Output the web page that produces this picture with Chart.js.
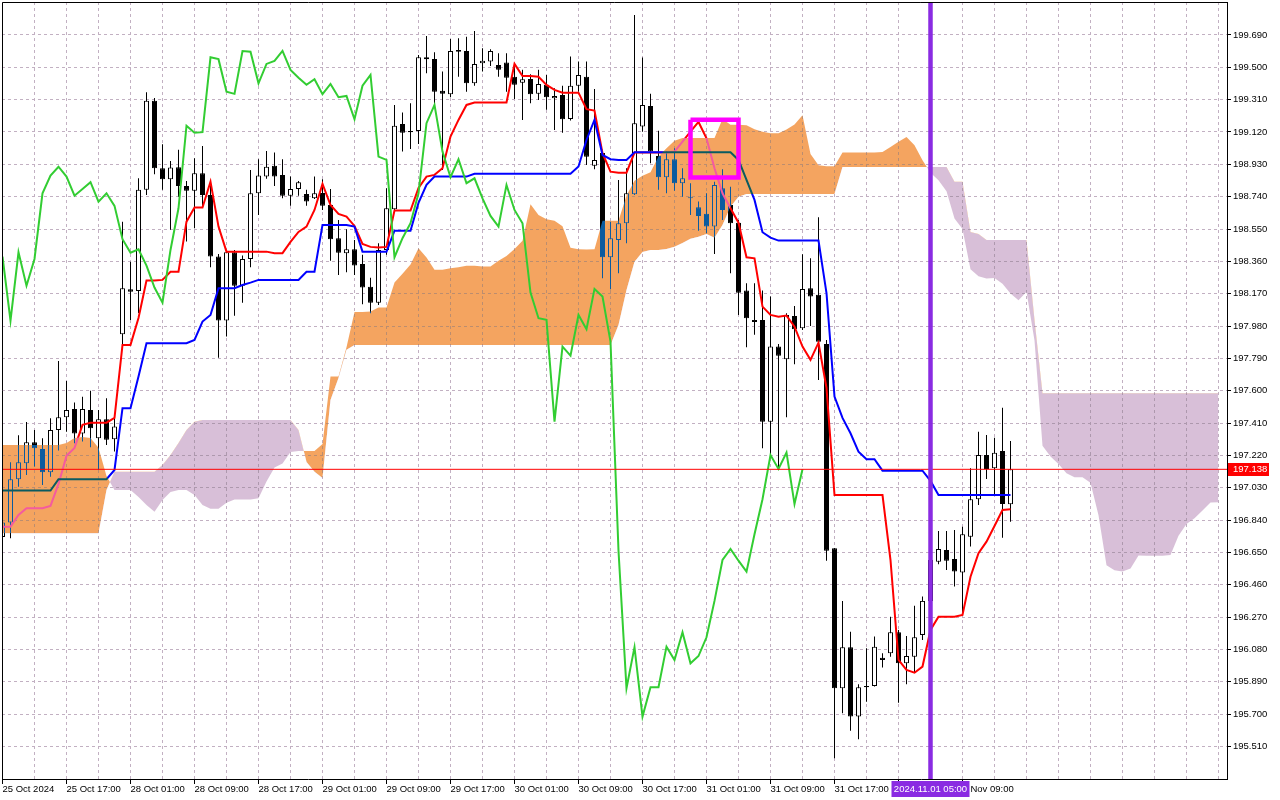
<!DOCTYPE html>
<html>
<head>
<meta charset="utf-8">
<script src="https://cdn.jsdelivr.net/npm/chart.js@4.4.1/dist/chart.umd.min.js"></script>
<style>html,body{margin:0;padding:0;background:#fff;}canvas{display:block;}</style>
</head>
<body>
<canvas id="c" width="1280" height="800"></canvas>
<script>
// ---------- DATA (H1 bars, index 0 = 25 Oct 2024 09:00) ----------
const opens = [196.741,196.825,197.080,197.174,197.297,197.258,197.121,197.369,197.444,197.493,
197.348,197.487,197.321,197.432,197.315,197.932,198.196,198.186,198.780,199.303,
198.907,198.842,198.913,198.803,198.775,198.878,198.750,198.388,198.012,198.413,
198.217,198.374,198.760,198.858,198.921,198.868,198.746,198.785,198.756,198.731,
198.762,198.691,198.496,198.408,198.431,198.345,198.211,198.117,198.427,198.666,
199.167,199.126,199.126,199.559,199.549,199.363,199.342,199.602,199.596,199.406,
199.524,199.534,199.514,199.528,199.445,199.410,199.432,199.344,199.397,199.318,
199.338,199.197,199.392,199.445,198.922,198.997,198.384,198.486,198.584,198.754,
199.152,199.273,198.979,198.854,198.960,198.819,198.733,198.678,198.639,198.564,
198.790,198.691,198.587,198.188,198.004,198.016,197.418,197.859,197.785,198.039,
197.967,198.202,198.163,197.875,196.674,195.852,196.093,195.685,195.865,195.865,
196.031,196.057,196.181,195.998,196.037,196.165,196.365,196.595,196.664,196.611,
196.531,196.742,196.962,197.222,197.144,197.246,196.933];
const highs = [196.840,197.180,197.338,197.416,197.369,197.321,197.438,197.775,197.657,197.530,
197.565,197.599,197.487,197.556,197.457,198.593,198.358,198.848,199.354,199.320,
199.048,198.950,199.015,198.832,198.966,199.038,198.838,198.403,198.427,198.427,
198.394,198.897,198.960,199.009,198.999,198.960,198.858,198.832,198.780,198.858,
198.842,198.785,198.603,198.549,198.486,198.398,198.264,198.466,198.790,199.279,
199.234,199.289,199.573,199.684,199.589,199.475,199.667,199.671,199.680,199.714,
199.612,199.606,199.583,199.583,199.524,199.485,199.459,199.485,199.455,199.377,
199.391,199.563,199.534,199.534,199.373,199.015,198.593,198.838,198.907,199.808,
199.557,199.344,199.128,199.005,199.025,198.907,198.819,198.711,198.760,198.828,
198.901,198.799,198.603,198.231,198.231,198.188,198.153,197.875,198.055,198.098,
198.402,198.378,198.619,197.898,196.676,196.365,196.184,195.875,196.087,196.155,
196.057,196.272,196.194,196.159,196.337,196.390,196.635,196.776,196.776,196.782,
196.801,197.144,197.359,197.340,197.324,197.500,197.305];
const lows = [196.723,196.733,197.036,197.105,197.154,197.046,197.095,197.248,197.359,197.291,
197.301,197.268,197.134,197.281,197.242,197.869,198.016,198.057,198.750,198.872,
198.780,198.545,198.740,198.476,198.555,198.681,198.325,197.794,197.918,198.041,
198.117,198.325,198.633,198.846,198.803,198.731,198.686,198.746,198.686,198.727,
198.662,198.364,198.280,198.296,198.280,198.108,198.055,198.104,198.398,198.644,
199.005,199.020,199.050,199.465,199.279,198.897,199.324,199.445,199.357,199.391,
199.475,199.508,199.445,199.357,199.314,199.191,199.289,199.308,199.250,199.132,
199.116,199.187,199.357,198.926,198.901,198.261,198.196,198.290,198.466,198.750,
199.122,198.936,198.780,198.760,198.775,198.740,198.633,198.540,198.525,198.403,
198.603,198.290,198.045,197.855,197.928,197.262,197.222,197.144,197.444,197.755,
197.957,197.980,197.663,196.601,195.440,195.705,195.602,195.552,195.773,195.862,
195.973,196.037,195.767,195.875,195.943,196.135,196.341,196.580,196.547,196.449,
196.292,196.684,196.929,197.081,196.987,196.736,196.830];
const closes = [196.825,197.080,197.180,197.297,197.262,197.121,197.369,197.444,197.487,197.348,
197.493,197.379,197.432,197.311,197.389,198.202,198.182,198.780,199.303,198.907,
198.842,198.911,198.803,198.775,198.878,198.750,198.388,198.012,198.413,198.217,
198.374,198.760,198.864,198.916,198.858,198.746,198.785,198.825,198.711,198.760,
198.686,198.490,198.411,198.431,198.335,198.206,198.117,198.427,198.672,199.157,
199.116,199.119,199.559,199.548,199.357,199.344,199.596,199.592,199.406,199.520,
199.538,199.596,199.485,199.439,199.397,199.430,199.342,199.402,199.324,199.332,
199.195,199.392,199.455,198.975,198.956,198.384,198.496,198.584,198.760,199.172,
199.279,199.005,198.854,198.960,198.819,198.848,198.730,198.627,198.564,198.809,
198.662,198.584,198.176,198.026,198.016,197.418,197.859,197.806,198.045,197.961,
198.198,198.153,197.888,196.660,195.852,196.093,195.685,195.858,195.858,196.096,
196.018,196.181,195.998,196.041,196.151,196.365,196.605,196.670,196.601,196.537,
196.756,196.962,197.222,197.140,197.236,196.934,197.138];
const tenkan = [196.801,196.801,196.870,196.909,196.909,196.909,196.923,197.052,197.217,197.264,
197.399,197.412,197.412,197.412,197.440,197.869,197.869,198.027,198.247,198.247,
198.251,198.299,198.299,198.593,198.676,198.676,198.828,198.564,198.417,198.417,
198.417,198.417,198.417,198.417,198.408,198.408,198.474,198.533,198.564,198.662,
198.815,198.691,198.639,198.623,198.568,198.462,198.445,198.442,198.445,198.658,
198.658,198.658,198.791,198.858,198.868,198.907,199.093,199.191,199.279,199.293,
199.293,199.293,199.293,199.293,199.520,199.449,199.449,199.445,199.397,199.367,
199.351,199.351,199.351,199.254,199.246,198.995,198.887,198.881,198.881,198.999,
198.999,198.999,198.999,198.999,199.005,199.063,199.122,199.179,199.083,198.907,
198.760,198.672,198.587,198.384,198.378,198.094,198.045,198.035,198.041,197.976,
197.859,197.781,197.882,197.616,196.987,196.987,196.987,196.987,196.987,196.987,
196.987,196.605,196.018,195.959,195.943,195.979,196.194,196.272,196.272,196.272,
196.282,196.507,196.645,196.713,196.805,196.899,196.903];
const kijun = [197.013,197.013,197.013,197.013,197.013,197.013,197.013,197.080,197.080,197.080,
197.080,197.080,197.080,197.080,197.134,197.497,197.497,197.683,197.879,197.879,
197.879,197.879,197.879,197.879,197.898,198.006,198.045,198.202,198.202,198.202,
198.221,198.235,198.251,198.251,198.251,198.251,198.251,198.251,198.299,198.299,
198.574,198.574,198.574,198.574,198.564,198.417,198.417,198.417,198.417,198.540,
198.540,198.540,198.703,198.809,198.858,198.858,198.858,198.858,198.858,198.874,
198.874,198.874,198.874,198.874,198.874,198.874,198.874,198.874,198.874,198.874,
198.874,198.874,198.917,199.073,199.191,198.985,198.960,198.956,198.956,199.001,
199.001,199.001,199.001,199.001,199.001,199.001,199.001,199.001,199.001,199.001,
199.001,199.001,198.956,198.838,198.721,198.531,198.499,198.482,198.482,198.482,
198.482,198.482,198.482,198.174,197.565,197.440,197.350,197.242,197.197,197.197,
197.130,197.130,197.130,197.130,197.130,197.130,197.070,196.987,196.987,196.987,
196.987,196.987,196.987,196.987,196.987,196.987,196.987];
// Chikou span as drawn (positions 0..100)
const chikou = [198.388,198.012,198.413,198.217,198.374,198.760,198.864,198.916,198.858,198.746,
198.785,198.825,198.711,198.760,198.686,198.490,198.411,198.431,198.335,198.206,
198.117,198.427,198.672,199.157,199.116,199.119,199.559,199.548,199.357,199.344,
199.596,199.592,199.406,199.520,199.538,199.596,199.485,199.439,199.397,199.430,
199.342,199.402,199.324,199.332,199.195,199.392,199.455,198.975,198.956,198.384,
198.496,198.584,198.760,199.172,199.279,199.005,198.854,198.960,198.819,198.848,
198.730,198.627,198.564,198.809,198.662,198.584,198.176,198.026,198.016,197.418,
197.859,197.806,198.045,197.961,198.198,198.153,197.888,196.660,195.852,196.093,
195.685,195.858,195.858,196.096,196.018,196.181,195.998,196.041,196.151,196.365,
196.605,196.670,196.601,196.537,196.756,196.962,197.222,197.140,197.236,196.934,
197.138];
// Senkou spans as drawn (positions 0..152, 26 bars ahead)
const senkouA = [197.281,197.281,197.281,197.281,197.281,197.281,197.281,197.281,197.293,197.322,
197.328,197.322,197.264,197.099,197.017,197.017,197.017,196.976,196.929,196.889,
196.958,197.005,197.017,197.017,196.987,196.929,196.907,196.907,196.942,196.961,
196.961,196.961,196.968,197.066,197.149,197.172,197.240,197.246,197.246,197.246,
197.287,197.683,197.683,197.855,198.063,198.063,198.065,198.089,198.089,198.236,
198.287,198.341,198.437,198.383,198.310,198.310,198.319,198.326,198.334,198.334,
198.330,198.330,198.363,198.392,198.432,198.481,198.695,198.633,198.607,198.599,
198.566,198.440,198.431,198.430,198.431,198.599,198.599,198.599,198.747,198.834,
198.863,198.883,198.976,199.025,199.069,199.084,199.084,199.084,199.084,199.084,
199.197,199.162,199.162,199.160,199.136,199.121,199.113,199.113,199.134,199.164,
199.219,198.990,198.924,198.919,198.919,199.000,199.000,199.000,199.000,199.000,
199.003,199.032,199.062,199.090,199.042,198.954,198.881,198.837,198.772,198.611,
198.550,198.313,198.272,198.259,198.262,198.229,198.171,198.132,198.182,197.895,
197.276,197.214,197.169,197.115,197.092,197.092,197.059,196.868,196.574,196.545,
196.537,196.555,196.632,196.630,196.630,196.630,196.635,196.747,196.816,196.850,
196.896,196.943,196.945];
const senkouB = [196.762,196.762,196.762,196.762,196.762,196.762,196.762,196.762,196.762,196.762,
196.762,196.762,196.762,197.017,197.124,197.124,197.124,197.124,197.124,197.124,
197.164,197.222,197.293,197.369,197.418,197.428,197.428,197.428,197.428,197.428,
197.428,197.428,197.428,197.428,197.428,197.428,197.428,197.369,197.181,197.123,
197.087,197.546,197.675,197.840,197.869,197.869,197.869,197.869,197.869,197.869,
197.869,197.869,197.869,197.869,197.869,197.869,197.869,197.869,197.869,197.869,
197.869,197.869,197.869,197.869,197.869,197.869,197.869,197.869,197.869,197.869,
197.869,197.869,197.869,197.869,197.869,197.869,197.869,197.986,198.192,198.358,
198.415,198.427,198.427,198.433,198.446,198.468,198.492,198.505,198.521,198.498,
198.574,198.681,198.740,198.756,198.756,198.756,198.756,198.756,198.756,198.756,
198.756,198.756,198.756,198.756,198.756,198.915,198.915,198.915,198.915,198.915,
198.915,198.915,198.915,198.915,198.915,198.915,198.915,198.915,198.915,198.828,
198.828,198.533,198.521,198.486,198.486,198.486,198.486,198.486,198.486,198.016,
197.585,197.585,197.585,197.585,197.585,197.585,197.585,197.585,197.585,197.585,
197.585,197.585,197.585,197.585,197.585,197.585,197.585,197.585,197.585,197.585,
197.585,197.585,197.585];
const timeLabels = ['25 Oct 2024','25 Oct 17:00','28 Oct 01:00','28 Oct 09:00','28 Oct 17:00',
'29 Oct 01:00','29 Oct 09:00','29 Oct 17:00','30 Oct 01:00','30 Oct 09:00','30 Oct 17:00',
'31 Oct 01:00','31 Oct 09:00','31 Oct 17:00','1 Nov 01:00','1 Nov 09:00'];
const labelEvery = 8;
const priceTicks = [195.51,195.70,195.89,196.08,196.27,196.46,196.65,196.84,197.03,197.22,197.41,197.60,
197.79,197.98,198.17,198.36,198.55,198.74,198.93,199.12,199.31,199.50,199.69];
const currentPrice = 197.138;
const markerTime = 116;
const markerLabel = '2024.11.01 05:00';
const boxTimes = [86, 92];
const boxPrices = [199.192, 198.853];

// ---------- CHART ----------
const X_MIN = -0.0625, X_MAX = 153.0625;
const Y_MIN = 195.3184, Y_MAX = 199.8838;
const FONT = {family: 'Liberation Sans', size: 9.5};
const GRID = '#c2b0c2';

const toXY = arr => arr.map((v, i) => ({x: i, y: v}));
const wickData = highs.map((h, i) => ({x: i, y: [lows[i], h]}));
const bodyData = opens.map((o, i) => ({x: i, y: [o, closes[i]]}));
const bodyFill = opens.map((o, i) => closes[i] >= o ? '#ffffff' : '#000000');

const cloudPlugin = {
  id: 'cloudXor',
  beforeDraw(chart) {
    const ctx = chart.ctx;
    ctx.save();
    ctx.globalCompositeOperation = 'source-over';
    ctx.fillStyle = '#ffffff';
    ctx.fillRect(0, 0, chart.width, chart.height);
    ctx.restore();
  },
  afterDatasetDraw(chart, args) {
    if (args.index === 4) chart.ctx.globalCompositeOperation = 'exclusion';
    if (args.index === 5) chart.ctx.globalCompositeOperation = 'source-over';
  },
  afterDraw(chart) {
    const {ctx, chartArea: a, scales: {x, y}} = chart;
    ctx.save();
    ctx.strokeStyle = '#000'; ctx.lineWidth = 1;
    ctx.beginPath();
    ctx.moveTo(a.left + 0.5, a.bottom);
    ctx.lineTo(a.left + 0.5, a.top + 0.5);
    ctx.lineTo(a.right, a.top + 0.5);
    ctx.stroke();
    ctx.font = '9.5px "Liberation Sans"';
    ctx.textBaseline = 'middle';
    const py = Math.round(y.getPixelForValue(currentPrice));
    ctx.fillStyle = '#ff0000';
    ctx.fillRect(a.right + 1, py - 6, 41, 13);
    ctx.fillStyle = '#ffffff'; ctx.textAlign = 'left';
    ctx.fillText(currentPrice.toFixed(3), a.right + 6, py + 0.5);
    const mx = x.getPixelForValue(markerTime);
    ctx.fillStyle = '#8a2be2';
    ctx.fillRect(mx - 39, a.bottom + 2, 78, 16);
    ctx.fillStyle = '#ffffff'; ctx.textAlign = 'center';
    ctx.fillText(markerLabel, mx, a.bottom + 10.5);
    ctx.restore();
  }
};

new Chart(document.getElementById('c'), {
  type: 'line',
  data: {
    datasets: [
      {type: 'bar', label: 'wick', data: wickData, backgroundColor: '#000', borderWidth: 0,
       barThickness: 1, grouped: false, order: 10, inflateAmount: 0},
      {type: 'bar', label: 'body', data: bodyData, backgroundColor: bodyFill, borderColor: '#000',
       borderWidth: 1, borderSkipped: false, barThickness: 5, grouped: false, order: 9,
       minBarLength: 1, inflateAmount: 0},
      {label: 'Tenkan-sen', data: toXY(tenkan), borderColor: '#ff0000', borderWidth: 2, order: 8},
      {label: 'Kijun-sen', data: toXY(kijun), borderColor: '#0000ff', borderWidth: 2, order: 7},
      {label: 'Senkou Span B', data: toXY(senkouB), borderWidth: 0, order: 6, fill: false},
      {label: 'Senkou Span A', data: toXY(senkouA), borderWidth: 0, order: 5,
       fill: {target: 4, above: 'rgb(11,91,159)', below: 'rgb(39,64,39)'}},
      {label: 'Chikou Span', data: toXY(chikou), borderColor: '#32cd32', borderWidth: 2, order: 4},
      {label: 'price', data: [{x: X_MIN, y: currentPrice}, {x: X_MAX, y: currentPrice}],
       borderColor: '#ff0000', borderWidth: 1, order: 3},
      {label: 'marker', data: [{x: markerTime, y: Y_MIN}, {x: markerTime, y: Y_MAX}],
       borderColor: '#8a2be2', borderWidth: 4.5, order: 2},
      {label: 'box', data: [{x: boxTimes[0], y: boxPrices[0]}, {x: boxTimes[1], y: boxPrices[0]},
        {x: boxTimes[1], y: boxPrices[1]}, {x: boxTimes[0], y: boxPrices[1]}, {x: boxTimes[0], y: boxPrices[0]}],
       borderColor: '#ff00ff', borderWidth: 4.5, borderJoinStyle: 'miter', order: 1}
    ]
  },
  options: {
    responsive: false,
    devicePixelRatio: 1,
    animation: false,
    events: [],
    layout: {padding: {left: 2, top: 2, right: 0, bottom: 0}},
    elements: {point: {radius: 0}, line: {tension: 0, fill: false}},
    plugins: {legend: {display: false}, tooltip: {enabled: false}, filler: {propagate: false}},
    scales: {
      x: {
        type: 'linear', min: X_MIN, max: X_MAX, offset: false,
        afterBuildTicks: s => { const t = []; for (let k = 0; k <= 152; k += 4) t.push({value: k}); s.ticks = t; },
        afterFit: s => { s.height = 21; s.paddingLeft = 0; s.paddingRight = 0; },
        ticks: {
          autoSkip: false, maxRotation: 0, minRotation: 0, align: 'start', padding: 0,
          color: '#000', font: FONT,
          callback: v => (v % labelEvery === 0 && timeLabels[v / labelEvery]) ? timeLabels[v / labelEvery] : ''
        },
        grid: {offset: false, color: GRID, lineWidth: 1, tickLength: 5, tickBorderDash: [],
          tickColor: c => (c.tick && c.tick.label) ? '#000' : 'rgba(0,0,0,0)'},
        border: {display: true, color: '#000', width: 1, dash: [3, 3]}
      },
      y: {
        type: 'linear', position: 'right', min: Y_MIN, max: Y_MAX,
        afterBuildTicks: s => { s.ticks = priceTicks.map(v => ({value: v})); },
        afterFit: s => { s.width = 53; s.paddingTop = 0; s.paddingBottom = 0; },
        ticks: {autoSkip: false, padding: 2, color: '#000', font: FONT, callback: v => Number(v).toFixed(3)},
        grid: {color: GRID, lineWidth: 1, tickLength: 4, tickColor: '#000', tickBorderDash: []},
        border: {display: true, color: '#000', width: 1, dash: [3, 3]}
      }
    }
  },
  plugins: [cloudPlugin]
});
</script>
</body>
</html>
